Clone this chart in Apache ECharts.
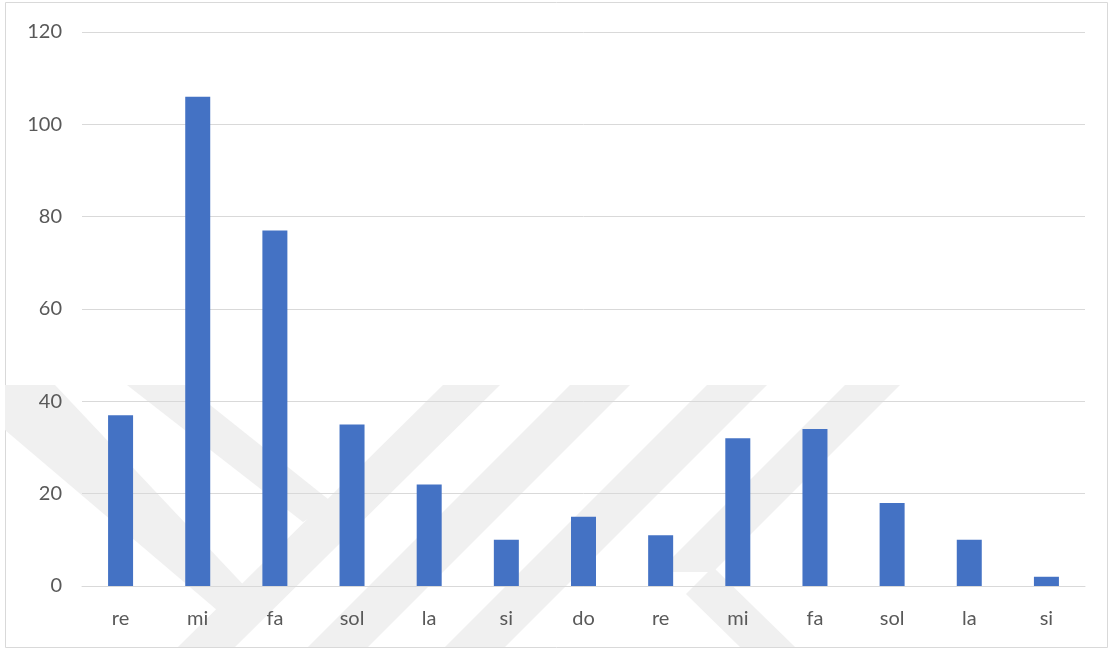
<!DOCTYPE html>
<html>
<head>
<meta charset="utf-8">
<script src="https://cdn.jsdelivr.net/npm/echarts@6/dist/echarts.min.js"></script>
<style>
  html, body { margin: 0; padding: 0; background: #ffffff; }
  #chart { width: 1113px; height: 650px; }
</style>
</head>
<body>
<div id="chart"></div>
<script>
// Note names along the horizontal axis
const notes = ['re', 'mi', 'fa', 'sol', 'la', 'si', 'do', 're', 'mi', 'fa', 'sol', 'la', 'si'];
// Count for each note
const counts = [37, 106, 77, 35, 22, 10, 15, 11, 32, 34, 18, 10, 2];
// Vertical axis range and step
const yMin = 0;
const yMax = 120;
const yStep = 20;

const chart = echarts.init(document.getElementById('chart'));

// Faint background emblem drawn as light grey bands
const wmColor = '#f0f0f0';
const wmShapes = [
  [[5, 385], [55, 385], [252, 594], [224, 616], [5, 430]],
  [[127, 385], [185, 385], [333, 503], [303, 522]],
  [[443, 385], [500, 385], [235, 647], [178, 647]],
  [[570, 385], [630, 385], [368, 647], [308, 647]],
  [[707, 385], [767, 385], [505, 647], [445, 647]],
  [[845, 385], [900, 385], [713, 572], [658, 572]],
  [[713, 567], [795, 647], [740, 647], [686, 594]]
];

chart.setOption({
  animation: false,
  backgroundColor: '#ffffff',
  textStyle: { fontFamily: 'Lato, "Open Sans", sans-serif' },
  graphic: [
    {
      type: 'rect',
      z: -20,
      silent: true,
      shape: { x: 5.5, y: 2.5, width: 1102, height: 645 },
      style: { fill: '#ffffff', stroke: '#d9d9d9', lineWidth: 1 }
    }
  ].concat(wmShapes.map(pts => ({
    type: 'polygon',
    z: -10,
    silent: true,
    shape: { points: pts },
    style: { fill: wmColor }
  }))),
  grid: { left: 82, right: 28, top: 32, bottom: 64, containLabel: false },
  xAxis: {
    type: 'category',
    data: notes,
    axisLine: { show: true, lineStyle: { color: '#d9d9d9', width: 1 } },
    axisTick: { show: false },
    axisLabel: { color: '#595959', fontSize: 20, margin: 23 },
    splitLine: { show: false }
  },
  yAxis: {
    type: 'value',
    min: yMin,
    max: yMax,
    interval: yStep,
    axisLine: { show: false },
    axisTick: { show: false },
    axisLabel: { color: '#595959', fontSize: 20, margin: 20 },
    splitLine: { show: true, lineStyle: { color: '#d9d9d9', width: 1 } }
  },
  series: [
    {
      type: 'bar',
      data: counts,
      barWidth: 25,
      itemStyle: { color: '#4472c4' }
    }
  ]
});
</script>
</body>
</html>
